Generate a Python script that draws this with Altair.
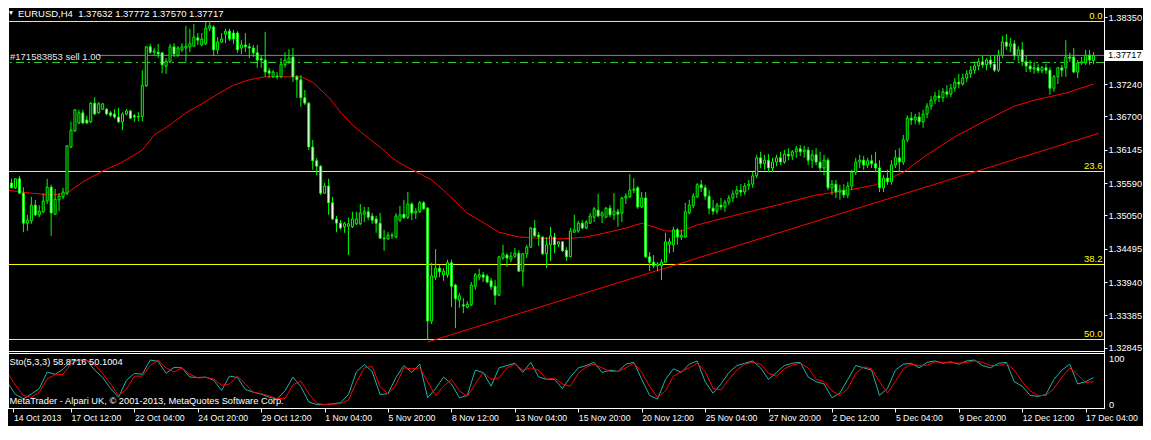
import altair as alt
import pandas as pd

# ---------------- data ----------------
symbol = "EURUSD,H4"
bars = list(range(275))

open_ = [
    1.3574, 1.3559, 1.3551, 1.3566, 1.3542, 1.3492, 1.3496, 1.3522, 1.3506, 1.3511,
    1.3529, 1.3552, 1.3507, 1.3531, 1.3536, 1.3542, 1.3619, 1.3646, 1.3659, 1.3676,
    1.3664, 1.3661, 1.3692, 1.3676, 1.3682, 1.3682, 1.3676, 1.3674, 1.3669, 1.3661,
    1.3674, 1.3679, 1.3671, 1.3669, 1.3670, 1.3721, 1.3786, 1.3777, 1.3777, 1.3776,
    1.3754, 1.3761, 1.3786, 1.3772, 1.3781, 1.3784, 1.3786, 1.3787, 1.3801, 1.3789,
    1.3791, 1.3817, 1.3819, 1.3781, 1.3794, 1.3807, 1.3812, 1.3809, 1.3809, 1.3784,
    1.3789, 1.3786, 1.3784, 1.3776, 1.3766, 1.3764, 1.3746, 1.3736, 1.3737, 1.3736,
    1.3756, 1.3761, 1.3769, 1.3736, 1.3731, 1.3701, 1.3692, 1.3619, 1.3596, 1.3587,
    1.3542, 1.3554, 1.3526, 1.3499, 1.3492, 1.3486, 1.3487, 1.3486, 1.3491, 1.3491,
    1.3507, 1.3511, 1.3504, 1.3499, 1.3492, 1.3467, 1.3466, 1.3471, 1.3469, 1.3497,
    1.3507, 1.3502, 1.3524, 1.3509, 1.3511, 1.3526, 1.3517, 1.3329, 1.3402, 1.3417,
    1.3406, 1.3406, 1.3426, 1.3389, 1.3364, 1.3356, 1.3352, 1.3356, 1.3387, 1.3402,
    1.3406, 1.3404, 1.3396, 1.3387, 1.3372, 1.3434, 1.3439, 1.3432, 1.3437, 1.3442,
    1.3412, 1.3441, 1.3452, 1.3484, 1.3472, 1.3469, 1.3441, 1.3456, 1.3469, 1.3457,
    1.3461, 1.3447, 1.3436, 1.3477, 1.3479, 1.3492, 1.3484, 1.3492, 1.3502, 1.3514,
    1.3504, 1.3502, 1.3517, 1.3506, 1.3511, 1.3509, 1.3534, 1.3536, 1.3547, 1.3551,
    1.3519, 1.3534, 1.3436, 1.3427, 1.3421, 1.3421, 1.3427, 1.3457, 1.3456, 1.3481,
    1.3469, 1.3469, 1.3509, 1.3521, 1.3536, 1.3556, 1.3551, 1.3537, 1.3517, 1.3512,
    1.3522, 1.3519, 1.3527, 1.3534, 1.3541, 1.3547, 1.3544, 1.3554, 1.3557, 1.3571,
    1.3601, 1.3591, 1.3597, 1.3584, 1.3594, 1.3601, 1.3594, 1.3607, 1.3604, 1.3611,
    1.3616, 1.3611, 1.3614, 1.3597, 1.3606, 1.3594, 1.3584, 1.3597, 1.3551, 1.3557,
    1.3544, 1.3547, 1.3539, 1.3554, 1.3577, 1.3594, 1.3597, 1.3589, 1.3596, 1.3591,
    1.3584, 1.3551, 1.3567, 1.3561, 1.3589, 1.3601, 1.3594, 1.3631, 1.3667, 1.3664,
    1.3669, 1.3661, 1.3674, 1.3687, 1.3697, 1.3704, 1.3701, 1.3711, 1.3707, 1.3717,
    1.3727, 1.3724, 1.3734, 1.3741, 1.3747, 1.3754, 1.3761, 1.3756, 1.3764, 1.3757,
    1.3747, 1.3772, 1.3794, 1.3787, 1.3791, 1.3771, 1.3781, 1.3761, 1.3754, 1.3749,
    1.3751, 1.3746, 1.3751, 1.3747, 1.3717, 1.3736, 1.3751, 1.3751, 1.3769, 1.3769,
    1.3744, 1.3759, 1.3759, 1.3772, 1.37632,
]

high = [
    1.3576, 1.3566, 1.3567, 1.3571, 1.3552, 1.3506, 1.3536, 1.3531, 1.3522, 1.3542,
    1.3566, 1.3556, 1.3549, 1.3542, 1.3551, 1.3622, 1.3661, 1.3682, 1.3681, 1.3681,
    1.3671, 1.3694, 1.3702, 1.3694, 1.3692, 1.3684, 1.3679, 1.3682, 1.3684, 1.3677,
    1.3682, 1.3681, 1.3674, 1.3677, 1.3747, 1.3787, 1.3791, 1.3784, 1.3791, 1.3777,
    1.3767, 1.3791, 1.3792, 1.3787, 1.3792, 1.3821, 1.3816, 1.3824, 1.3809, 1.3809,
    1.3827, 1.3829, 1.3822, 1.3802, 1.3809, 1.3816, 1.3816, 1.3814, 1.3812, 1.3797,
    1.3809, 1.3792, 1.3789, 1.3789, 1.3772, 1.3811, 1.3751, 1.3747, 1.3744, 1.3767,
    1.3777, 1.3782, 1.3784, 1.3739, 1.3739, 1.3714, 1.3694, 1.3631, 1.3601, 1.3589,
    1.3559, 1.3566, 1.3536, 1.3504, 1.3497, 1.3494, 1.3501, 1.3511, 1.3511, 1.3524,
    1.3519, 1.3519, 1.3509, 1.3504, 1.3509, 1.3481, 1.3477, 1.3476, 1.3509, 1.3521,
    1.3531, 1.3544, 1.3527, 1.3517, 1.3529, 1.3529, 1.3519, 1.3426, 1.3449, 1.3422,
    1.3417, 1.3431, 1.3431, 1.3391, 1.3376, 1.3367, 1.3362, 1.3394, 1.3409, 1.3416,
    1.3411, 1.3407, 1.3401, 1.3397, 1.3437, 1.3456, 1.3442, 1.3444, 1.3451, 1.3447,
    1.3442, 1.3456, 1.3486, 1.3497, 1.3477, 1.3470, 1.3469, 1.3486, 1.3476, 1.3462,
    1.3462, 1.3452, 1.3484, 1.3506, 1.3496, 1.3497, 1.3497, 1.3509, 1.3519, 1.3541,
    1.3512, 1.3519, 1.3522, 1.3542, 1.3516, 1.3536, 1.3542, 1.3574, 1.3567, 1.3554,
    1.3544, 1.3544, 1.3444, 1.3439, 1.3427, 1.3432, 1.3476, 1.3467, 1.3486, 1.3484,
    1.3481, 1.3526, 1.3531, 1.3542, 1.3559, 1.3564, 1.3556, 1.3547, 1.3531, 1.3526,
    1.3534, 1.3531, 1.3539, 1.3547, 1.3554, 1.3557, 1.3559, 1.3564, 1.3577, 1.3606,
    1.3611, 1.3606, 1.3607, 1.3601, 1.3606, 1.3611, 1.3614, 1.3617, 1.3614, 1.3621,
    1.3622, 1.3621, 1.3619, 1.3614, 1.3617, 1.3611, 1.3606, 1.3601, 1.3564, 1.3564,
    1.3556, 1.3557, 1.3561, 1.3581, 1.3601, 1.3606, 1.3604, 1.3601, 1.3606, 1.3611,
    1.3597, 1.3572, 1.3581, 1.3597, 1.3614, 1.3617, 1.3639, 1.3672, 1.3677, 1.3674,
    1.3677, 1.3681, 1.3692, 1.3704, 1.3711, 1.3714, 1.3717, 1.3722, 1.3724, 1.3734,
    1.3741, 1.3741, 1.3747, 1.3754, 1.3761, 1.3767, 1.3771, 1.3767, 1.3771, 1.3772,
    1.3781, 1.3804, 1.3807, 1.3801, 1.3797, 1.3787, 1.3794, 1.3772, 1.3764, 1.3761,
    1.3757, 1.3754, 1.3757, 1.3752, 1.3739, 1.3752, 1.3756, 1.3797, 1.3776, 1.3784,
    1.3764, 1.3769, 1.3781, 1.3781, 1.37772,
]

low = [
    1.3557, 1.3550, 1.3549, 1.3541, 1.3477, 1.3479, 1.3491, 1.3504, 1.3502, 1.3509,
    1.3524, 1.3471, 1.3506, 1.3512, 1.3532, 1.3539, 1.3617, 1.3644, 1.3657, 1.3657,
    1.3657, 1.3659, 1.3672, 1.3674, 1.3681, 1.3672, 1.3669, 1.3666, 1.3659, 1.3647,
    1.3672, 1.3666, 1.3661, 1.3662, 1.3662, 1.3719, 1.3774, 1.3771, 1.3767, 1.3742,
    1.3741, 1.3759, 1.3769, 1.3769, 1.3777, 1.3761, 1.3777, 1.3786, 1.3789, 1.3787,
    1.3789, 1.3812, 1.3771, 1.3774, 1.3792, 1.3792, 1.3796, 1.3791, 1.3776, 1.3774,
    1.3777, 1.3767, 1.3769, 1.3751, 1.3751, 1.3736, 1.3734, 1.3734, 1.3732, 1.3734,
    1.3751, 1.3757, 1.3727, 1.3701, 1.3686, 1.3689, 1.3614, 1.3581, 1.3572, 1.3539,
    1.3541, 1.3506, 1.3497, 1.3477, 1.3481, 1.3476, 1.3439, 1.3484, 1.3489, 1.3489,
    1.3494, 1.3497, 1.3491, 1.3476, 1.3466, 1.3446, 1.3464, 1.3466, 1.3467, 1.3494,
    1.3499, 1.3499, 1.3497, 1.3499, 1.3509, 1.3514, 1.3297, 1.3324, 1.3397, 1.3402,
    1.3396, 1.3401, 1.3352, 1.3317, 1.3351, 1.3342, 1.3350, 1.3354, 1.3381, 1.3397,
    1.3394, 1.3392, 1.3381, 1.3356, 1.3371, 1.3431, 1.3419, 1.3427, 1.3434, 1.3411,
    1.3387, 1.3434, 1.3451, 1.3469, 1.3454, 1.3439, 1.3417, 1.3429, 1.3442, 1.3452,
    1.3444, 1.3429, 1.3436, 1.3476, 1.3476, 1.3482, 1.3482, 1.3491, 1.3494, 1.3502,
    1.3492, 1.3501, 1.3502, 1.3497, 1.3486, 1.3494, 1.3524, 1.3534, 1.3542, 1.3516,
    1.3517, 1.3434, 1.3412, 1.3417, 1.3412, 1.3397, 1.3426, 1.3442, 1.3444, 1.3456,
    1.3464, 1.3469, 1.3507, 1.3517, 1.3534, 1.3544, 1.3531, 1.3507, 1.3506, 1.3507,
    1.3514, 1.3511, 1.3522, 1.3527, 1.3534, 1.3537, 1.3539, 1.3547, 1.3551, 1.3567,
    1.3584, 1.3581, 1.3577, 1.3577, 1.3587, 1.3589, 1.3591, 1.3597, 1.3597, 1.3601,
    1.3604, 1.3601, 1.3589, 1.3584, 1.3589, 1.3577, 1.3572, 1.3547, 1.3539, 1.3534,
    1.3531, 1.3534, 1.3534, 1.3547, 1.3572, 1.3584, 1.3581, 1.3584, 1.3584, 1.3577,
    1.3544, 1.3544, 1.3556, 1.3556, 1.3584, 1.3577, 1.3589, 1.3627, 1.3656, 1.3657,
    1.3656, 1.3651, 1.3667, 1.3681, 1.3691, 1.3694, 1.3694, 1.3701, 1.3702, 1.3711,
    1.3717, 1.3721, 1.3727, 1.3734, 1.3741, 1.3747, 1.3751, 1.3747, 1.3751, 1.3744,
    1.3744, 1.3767, 1.3781, 1.3777, 1.3764, 1.3761, 1.3754, 1.3744, 1.3744, 1.3741,
    1.3742, 1.3742, 1.3741, 1.3706, 1.3711, 1.3724, 1.3736, 1.3736, 1.3761, 1.3742,
    1.3734, 1.3756, 1.3756, 1.3756, 1.37570,
]

close = [
    1.3559, 1.3551, 1.3566, 1.3542, 1.3492, 1.3497, 1.3522, 1.3506, 1.3512, 1.3529,
    1.3552, 1.3509, 1.3532, 1.3537, 1.3544, 1.3621, 1.3647, 1.3681, 1.3676, 1.3659,
    1.3659, 1.3692, 1.3674, 1.3691, 1.3691, 1.3674, 1.3672, 1.3669, 1.3661, 1.3674,
    1.3679, 1.3667, 1.3669, 1.3670, 1.3722, 1.3786, 1.3777, 1.3779, 1.3774, 1.3756,
    1.3762, 1.3786, 1.3774, 1.3784, 1.3786, 1.3787, 1.3791, 1.3802, 1.3797, 1.3799,
    1.3817, 1.3821, 1.3781, 1.3794, 1.3799, 1.3812, 1.3799, 1.3799, 1.3781, 1.3789,
    1.3786, 1.3784, 1.3776, 1.3764, 1.3764, 1.3744, 1.3742, 1.3744, 1.3736, 1.3757,
    1.3764, 1.3767, 1.3736, 1.3731, 1.3701, 1.3692, 1.3619, 1.3596, 1.3587, 1.3542,
    1.3554, 1.3526, 1.3499, 1.3492, 1.3484, 1.3491, 1.3491, 1.3499, 1.3499, 1.3509,
    1.3511, 1.3502, 1.3497, 1.3492, 1.3467, 1.3466, 1.3472, 1.3472, 1.3504, 1.3506,
    1.3501, 1.3524, 1.3509, 1.3512, 1.3526, 1.3516, 1.3329, 1.3404, 1.3417, 1.3411,
    1.3412, 1.3426, 1.3387, 1.3366, 1.3371, 1.3354, 1.3357, 1.3389, 1.3406, 1.3406,
    1.3402, 1.3394, 1.3386, 1.3372, 1.3436, 1.3441, 1.3434, 1.3437, 1.3442, 1.3412,
    1.3441, 1.3452, 1.3484, 1.3471, 1.3469, 1.3441, 1.3456, 1.3471, 1.3456, 1.3461,
    1.3446, 1.3436, 1.3479, 1.3481, 1.3492, 1.3484, 1.3494, 1.3504, 1.3516, 1.3504,
    1.3509, 1.3517, 1.3506, 1.3512, 1.3507, 1.3534, 1.3537, 1.3547, 1.3549, 1.3519,
    1.3534, 1.3436, 1.3427, 1.3421, 1.3424, 1.3427, 1.3461, 1.3461, 1.3481, 1.3469,
    1.3472, 1.3511, 1.3522, 1.3537, 1.3556, 1.3551, 1.3537, 1.3517, 1.3512, 1.3522,
    1.3519, 1.3527, 1.3534, 1.3541, 1.3547, 1.3544, 1.3554, 1.3557, 1.3571, 1.3601,
    1.3591, 1.3597, 1.3584, 1.3594, 1.3601, 1.3594, 1.3607, 1.3604, 1.3611, 1.3616,
    1.3611, 1.3614, 1.3597, 1.3606, 1.3594, 1.3584, 1.3597, 1.3551, 1.3557, 1.3544,
    1.3547, 1.3539, 1.3554, 1.3577, 1.3594, 1.3597, 1.3589, 1.3596, 1.3591, 1.3584,
    1.3551, 1.3567, 1.3561, 1.3589, 1.3601, 1.3594, 1.3631, 1.3667, 1.3664, 1.3669,
    1.3661, 1.3674, 1.3687, 1.3697, 1.3704, 1.3701, 1.3711, 1.3707, 1.3717, 1.3727,
    1.3724, 1.3734, 1.3741, 1.3747, 1.3754, 1.3761, 1.3756, 1.3764, 1.3757, 1.3747,
    1.3772, 1.3794, 1.3787, 1.3791, 1.3771, 1.3781, 1.3761, 1.3754, 1.3749, 1.3751,
    1.3746, 1.3751, 1.3747, 1.3717, 1.3736, 1.3751, 1.3747, 1.3769, 1.3767, 1.3744,
    1.3759, 1.3761, 1.3772, 1.3764, 1.37717,
]

# moving average (red curve)
ma_bars = [0, 6, 11, 15, 19, 24, 29, 34, 37, 41, 45, 49, 54, 57, 61, 65, 69, 74, 77, 81,
           84, 87, 90, 94, 97, 99, 107, 110, 116, 119, 124, 129, 134, 140, 146, 151, 156,
           160, 163, 166, 170, 174, 184, 194, 204, 212, 219, 226, 232, 239, 247, 254, 259,
           267, 274]
ma_values = [1.3547, 1.3542, 1.3539, 1.3542, 1.3561, 1.3579, 1.3594, 1.3614, 1.3639, 1.3656,
             1.3676, 1.3691, 1.3711, 1.3722, 1.3731, 1.3736, 1.3736, 1.3736, 1.3727, 1.3702,
             1.3677, 1.3656, 1.3639, 1.3619, 1.3601, 1.3592, 1.3564, 1.3547, 1.3509, 1.3497,
             1.3477, 1.3469, 1.3467, 1.3466, 1.3469, 1.3476, 1.3484, 1.3492, 1.3486, 1.3479,
             1.3479, 1.3489, 1.3506, 1.3522, 1.3539, 1.3547, 1.3556, 1.3577, 1.3606, 1.3636,
             1.3664, 1.3687, 1.3697, 1.3709, 1.3724]

# trend line (two anchor points)
trend_bars = [106, 275.375]
trend_prices = [1.3294, 1.3642]

# Fibonacci levels
fib_levels = [1.38282, 1.35782, 1.34232, 1.32982]
fib_labels = ["0.0", "23.6", "38.2", "50.0"]

bid_price = 1.37717
order_price = 1.37598
order_label = "#171583853 sell 1.00"

price_ticks = [1.38350, 1.37795, 1.37240, 1.36700, 1.36145, 1.35590,
               1.35050, 1.34495, 1.33940, 1.33385, 1.32845]
hidden_tick = 1.37795  # covered by the bid price box

time_tick_bars = [1.5, 16, 32, 48, 64, 80, 96, 112, 128, 144, 160, 176, 192, 208, 224,
                  240, 256, 272]
time_tick_labels = ["14 Oct 2013", "17 Oct 12:00", "22 Oct 04:00", "24 Oct 20:00",
                    "29 Oct 12:00", "1 Nov 04:00", "5 Nov 20:00", "8 Nov 12:00",
                    "13 Nov 04:00", "15 Nov 20:00", "20 Nov 12:00", "25 Nov 04:00",
                    "27 Nov 20:00", "2 Dec 12:00", "5 Dec 04:00", "9 Dec 20:00",
                    "12 Dec 12:00", "17 Dec 04:00"]

# Stochastic (5,3,3), read every second bar
sto_bars = list(range(0, 275, 2))
sto_main = [48, 22, 13, 23, 35, 71, 66, 77, 95, 97, 97, 75, 59, 35, 16, 53, 68, 66, 97, 94,
            68, 81, 80, 60, 59, 60, 53, 31, 62, 59, 33, 27, 23, 16, 12, 30, 60, 39, 6, 0,
            0, 2, 4, 22, 71, 87, 72, 22, 24, 59,
            85, 70, 88, 15, 35, 60, 45, 15, 20, 75, 70, 40, 80, 85, 90, 70, 92, 60, 55, 55,
            35, 60, 80, 85, 92, 70, 75, 72, 88, 92, 55, 20, 12, 55, 78, 70, 88, 95, 50, 25,
            45, 70, 85, 90, 95, 80, 55, 70, 85, 90, 92, 60, 50, 45, 15, 25, 55, 85, 80, 75,
            20, 35, 75, 88, 90, 80, 92, 95, 90, 93, 88, 95, 97, 85, 80, 90, 92, 50, 40, 20,
            18, 22, 55, 75, 88, 45, 50, 58.8716]
sto_signal = [70, 42, 20, 16, 27, 56, 65, 66, 88, 97, 97, 87, 68, 45, 20, 33, 62, 62, 85, 97,
              80, 71, 80, 66, 58, 59, 56, 42, 45, 62, 45, 27, 24, 19, 13, 13, 43, 51, 24, 3,
              0, 1, 2, 10, 48, 80, 83, 39, 23, 43,
              80, 78, 80, 50, 20, 40, 55, 30, 18, 45, 70, 55, 58, 80, 88, 75, 80, 75, 55, 58,
              45, 40, 68, 82, 88, 80, 72, 72, 80, 90, 70, 40, 15, 30, 62, 72, 80, 90, 72, 35,
              32, 55, 75, 88, 92, 88, 68, 62, 78, 86, 90, 80, 55, 50, 30, 20, 35, 68, 82, 78,
              50, 25, 50, 78, 88, 85, 86, 93, 92, 92, 90, 92, 95, 92, 85, 85, 90, 75, 50, 30,
              20, 20, 35, 60, 80, 65, 48, 50.1004]
sto_levels = [100, 0]
copyright_text = "MetaTrader - Alpari UK, \u00a9 2001-2013, MetaQuotes Software Corp."

# ---------------- chart ----------------
FONT = "Liberation Sans, Arial, sans-serif"
PW = 1096  # plot width (px)

candle_df = pd.DataFrame({"k": bars, "o": open_, "h": high, "l": low, "c": close})
ma_df = pd.DataFrame({"k": ma_bars, "p": ma_values})
trend_df = pd.DataFrame({"k": trend_bars, "p": trend_prices})
fib_df = pd.DataFrame({"p": fib_levels, "t": fib_labels})
bid_df = pd.DataFrame({"p": [bid_price]})
order_df = pd.DataFrame({"p": [order_price], "t": [order_label]})
sto_df = pd.DataFrame({"k": sto_bars, "K": sto_main, "D": sto_signal})
lvl_df = pd.DataFrame({"v": sto_levels})
header_df = pd.DataFrame({"t": [f"{symbol}\u00a0\u00a0{open_[-1]:.5f} {high[-1]:.5f} {low[-1]:.5f} {close[-1]:.5f}"],
                          "s": [f"Sto(5,3,3) {sto_main[-1]:.4f} {sto_signal[-1]:.4f}"],
                          "m": [copyright_text]})

x_scale = alt.Scale(domain=[1.375, 275.375], nice=False, zero=False)
p_scale = alt.Scale(domain=[1.3184, 1.385067], nice=False, zero=False)
s_scale = alt.Scale(domain=[-7.3, 862.5], nice=False, zero=False)

labels_js = "[" + ",".join("'" + t + "'" for t in time_tick_labels) + "]"
values_js = "[" + ",".join(str(b) for b in time_tick_bars) + "]"
x_axis = alt.Axis(values=time_tick_bars,
                  labelExpr=f"{labels_js}[indexof({values_js}, datum.value)]",
                  title=None, grid=False, domain=False, tickColor="white", tickSize=4,
                  labelColor="white", labelFont=FONT, labelFontSize=8.7, labelAlign="left",
                  labelBaseline="top", labelPadding=1, labelOverlap=False, labelFlush=False,
                  labelBound=False)
p_axis = alt.Axis(orient="right", values=price_ticks,
                  labelExpr=f"datum.value == {hidden_tick} ? '' : format(datum.value, '.5f')",
                  title=None, grid=False, domain=False, tickColor="white", tickSize=3,
                  labelColor="white", labelFont=FONT, labelFontSize=9.3, labelPadding=1,
                  labelOverlap=False, labelBound=False, labelFlush=False)

X = alt.X("k:Q", scale=x_scale, axis=x_axis)


def PY(field):
    return alt.Y(field, type="quantitative", scale=p_scale, axis=p_axis)


def SY(field):
    return alt.Y(field, type="quantitative", scale=s_scale, axis=None)


fib_rules = alt.Chart(fib_df).mark_rule(color="#ffff00", strokeWidth=1).encode(y=PY("p"))
fib_text = alt.Chart(fib_df).mark_text(color="#ffff00", align="right", baseline="alphabetic",
                                       dy=-2, font=FONT, fontSize=9.5).encode(
    x=alt.value(PW - 1.5), y=PY("p"), text="t")
order_rule = alt.Chart(order_df).mark_rule(color="#32cd32", strokeWidth=1,
                                           strokeDash=[8, 4, 2, 4]).encode(y=PY("p"))
order_text = alt.Chart(order_df).mark_text(color="#e6e6e6", align="left", baseline="middle",
                                           dy=-6, font=FONT, fontSize=9.5).encode(
    x=alt.value(2), y=PY("p"), text="t")
bid_rule = alt.Chart(bid_df).mark_rule(color="#778899", strokeWidth=1).encode(
    x=alt.value(90), x2=alt.value(PW), y=PY("p"))
ma_line = alt.Chart(ma_df).mark_line(color="#ff0000", strokeWidth=1, clip=True).encode(
    x=X, y=PY("p"))
trend_line = alt.Chart(trend_df).mark_line(color="#ff0000", strokeWidth=1, clip=True).encode(
    x=X, y=PY("p"))
wicks = alt.Chart(candle_df).mark_rule(color="#00ff00", strokeWidth=1, clip=True).encode(
    x=X, y=PY("l"), y2="h")
bodies = alt.Chart(candle_df).mark_bar(width=2, stroke="#00ff00", strokeWidth=1,
                                       clip=True).encode(
    x=X, y=PY("o"), y2="c",
    fill=alt.condition("datum.c > datum.o", alt.value("black"), alt.value("white")))
bid_box = alt.Chart(bid_df).mark_tick(orient="horizontal", thickness=11, size=43,
                                      color="white", opacity=1).encode(
    x=alt.value(PW + 21.5), y=PY("p"))
bid_text = alt.Chart(bid_df).mark_text(color="black", align="left", baseline="middle",
                                       font=FONT, fontSize=9.3).encode(
    x=alt.value(PW + 4), y=PY("p"), text=alt.Text("p:Q", format=".5f"))

price_group = alt.layer(fib_rules, order_rule, bid_rule, ma_line, trend_line, wicks, bodies,
                        fib_text, order_text, bid_box, bid_text)

k_line = alt.Chart(sto_df).mark_line(color="#20b2aa", strokeWidth=1, clip=True).encode(
    x=X, y=SY("K"))
d_line = alt.Chart(sto_df).mark_line(color="#ff0000", strokeWidth=1, clip=True).encode(
    x=X, y=SY("D"))
lvl_text = alt.Chart(lvl_df).mark_text(color="white", align="left", baseline="middle",
                                       font=FONT, fontSize=9.3).encode(
    x=alt.value(PW + 5), y=SY("v"), text=alt.Text("v:Q", format="d"))
stoch_group = alt.layer(k_line, d_line, lvl_text)

frame = alt.Chart(pd.DataFrame({"z": [0]}))
f_left = frame.mark_rule(color="white").encode(x=alt.value(0.5), y=alt.value(0), y2=alt.value(401))
f_right = frame.mark_rule(color="white").encode(x=alt.value(PW + 0.5), y=alt.value(0), y2=alt.value(401))
f_b1 = frame.mark_rule(color="white").encode(y=alt.value(343.5), x=alt.value(0), x2=alt.value(PW + 1))
f_b2 = frame.mark_rule(color="white").encode(y=alt.value(345.5), x=alt.value(0), x2=alt.value(PW + 1))
f_b3 = frame.mark_rule(color="white").encode(y=alt.value(400.5), x=alt.value(0), x2=alt.value(PW + 1))

hdr = alt.Chart(header_df)
title_text = hdr.mark_text(color="white", align="left", baseline="top", font=FONT,
                           fontSize=9.5).encode(x=alt.value(10), y=alt.value(0.5), text="t")
tri = hdr.mark_text(color="white", align="center", baseline="top", fontSize=6.5,
                    text="\u25bc").encode(x=alt.value(3), y=alt.value(2))
sto_title = hdr.mark_text(color="white", align="left", baseline="middle", font=FONT,
                          fontSize=9.3).encode(x=alt.value(1.5), y=alt.value(354), text="s")
copy_text = hdr.mark_text(color="white", align="left", baseline="middle", font=FONT,
                          fontSize=9.3).encode(x=alt.value(1.5), y=alt.value(393), text="m")

chart = alt.layer(
    price_group, stoch_group, f_left, f_right, f_b1, f_b2, f_b3,
    title_text, tri, sto_title, copy_text
).resolve_scale(y="independent").properties(
    width=PW, height=400,
    autosize=alt.AutoSizeParams(type="none"),
    padding={"left": 0, "top": 0, "right": 1135 - PW, "bottom": 18},
    background="black",
).configure_view(stroke=None)

chart.save("out.html", embed_options={"renderer": "svg", "actions": False})
